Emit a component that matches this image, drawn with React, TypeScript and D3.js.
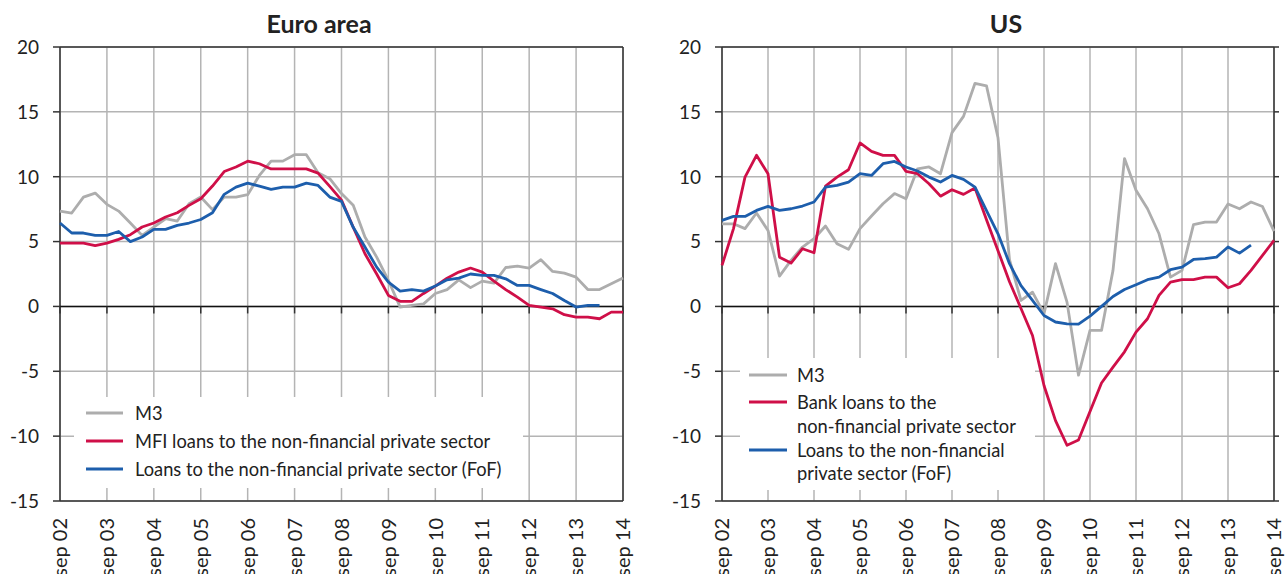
import React from "react";
import * as d3 from "d3";

// Quarterly observations, index 0 = Sep 2002 ... index 48 = Sep 2014
const xTickLabels = ["sep 02", "sep 03", "sep 04", "sep 05", "sep 06", "sep 07", "sep 08", "sep 09", "sep 10", "sep 11", "sep 12", "sep 13", "sep 14"];
const yTicks = [20, 15, 10, 5, 0, -5, -10, -15];

const euroM3 = [7.35, 7.2, 8.43, 8.74, 7.87, 7.35, 6.43, 5.48, 6.12, 6.76, 6.58, 7.92, 8.43, 7.46, 8.43, 8.43, 8.61, 10.1, 11.2, 11.2, 11.7, 11.7, 10.3, 9.85, 8.7, 7.8, 5.35, 3.8, 2.0, -0.05, 0.08, 0.2, 1.0, 1.3, 2.05, 1.45, 1.95, 1.8, 3.0, 3.1, 2.95, 3.6, 2.7, 2.57, 2.26, 1.3, 1.3, 1.75, 2.2];
const euroMFI = [4.88, 4.88, 4.88, 4.68, 4.88, 5.17, 5.53, 6.12, 6.43, 6.89, 7.22, 7.79, 8.3, 9.28, 10.4, 10.75, 11.2, 11.0, 10.6, 10.6, 10.6, 10.6, 10.28, 9.25, 8.2, 6.1, 4.06, 2.5, 0.85, 0.39, 0.39, 1.0, 1.57, 2.18, 2.65, 2.96, 2.65, 1.95, 1.3, 0.72, 0.08, -0.05, -0.18, -0.64, -0.82, -0.82, -0.95, -0.44, -0.44];
const euroFoF = [6.43, 5.66, 5.66, 5.48, 5.48, 5.78, 5.0, 5.35, 5.94, 5.94, 6.25, 6.43, 6.7, 7.22, 8.64, 9.2, 9.51, 9.28, 9.02, 9.2, 9.2, 9.51, 9.33, 8.43, 8.1, 6.1, 4.58, 3.03, 1.88, 1.18, 1.3, 1.18, 1.57, 2.05, 2.18, 2.5, 2.39, 2.39, 2.13, 1.62, 1.62, 1.3, 1.0, 0.46, -0.05, 0.08, 0.08];

const usM3 = [6.37, 6.37, 6.0, 7.2, 5.86, 2.34, 3.55, 4.58, 5.22, 6.2, 4.83, 4.4, 6.0, 6.97, 7.92, 8.7, 8.3, 10.6, 10.75, 10.23, 13.4, 14.65, 17.2, 17.0, 13.0, 3.6, 0.46, 1.1, -0.55, 3.3, 0.33, -5.3, -1.85, -1.85, 2.78, 11.4, 8.95, 7.53, 5.6, 2.26, 2.78, 6.3, 6.5, 6.5, 7.9, 7.53, 8.05, 7.7, 5.8];
const usBank = [3.16, 6.0, 9.97, 11.65, 10.23, 3.8, 3.34, 4.45, 4.14, 9.28, 9.97, 10.54, 12.6, 11.95, 11.65, 11.65, 10.41, 10.23, 9.46, 8.5, 9.0, 8.64, 9.13, 6.68, 4.3, 1.9, -0.16, -2.24, -6.1, -8.8, -10.7, -10.3, -8.1, -5.9, -4.68, -3.5, -1.98, -0.95, 0.85, 1.88, 2.06, 2.06, 2.26, 2.26, 1.44, 1.75, 2.78, 3.93, 5.09];
const usFoF = [6.63, 6.94, 6.94, 7.4, 7.71, 7.4, 7.53, 7.74, 8.05, 9.2, 9.33, 9.59, 10.23, 10.1, 11.0, 11.18, 10.75, 10.44, 9.97, 9.59, 10.1, 9.8, 9.2, 7.38, 5.6, 3.3, 1.6, 0.46, -0.7, -1.2, -1.34, -1.36, -0.75, 0.0, 0.77, 1.31, 1.67, 2.06, 2.26, 2.83, 3.03, 3.62, 3.68, 3.8, 4.58, 4.11, 4.73];

const euroLegend = [["M3"], ["MFI loans to the non-financial private sector"], ["Loans to the non-financial private sector (FoF)"]];
const usLegend = [["M3"], ["Bank loans to the", "non-financial private sector"], ["Loans to the non-financial", "private sector (FoF)"]];

const GRAY = "#adadad";
const RED = "#cf0f48";
const BLUE = "#1d5eac";
const GRID = "#b4b4b4";
const AXIS = "#333333";
const TEXT = "#222222";
const FONT = "Lato, 'Noto Sans', sans-serif";

type PanelProps = {
  title: string;
  titleX: number;
  x0: number;
  x1: number;
  series: { values: number[]; color: string }[];
  legend: string[][];
  legendBox: { x: number; y: number; w: number; h: number };
  legendLineX: [number, number];
  legendTextX: number;
  legendRowsY: number[][];
  rightTicks: boolean;
};

const Y0 = 47;
const Y1 = 501;

function Panel(p: PanelProps) {
  const nQ = (xTickLabels.length - 1) * 4;
  const x = d3.scaleLinear().domain([0, nQ]).range([p.x0, p.x1]);
  const y = d3.scaleLinear().domain([20, -15]).range([Y0, Y1]);
  const line = d3
    .line<number>()
    .x((_, i) => x(i))
    .y((d) => y(d));
  const xTicks = xTickLabels.map((_, i) => i * 4);
  return (
    <g>
      <text x={p.titleX} y={33} textAnchor="middle" fontFamily={FONT} fontWeight={700} fontSize={25} fill={TEXT}>
        {p.title}
      </text>
      {/* grid */}
      {yTicks.map((t) => (
        <line key={"h" + t} x1={p.x0} x2={p.x1} y1={y(t)} y2={y(t)} stroke={GRID} strokeWidth={1.5} />
      ))}
      {xTicks.map((t) => (
        <line key={"v" + t} x1={x(t)} x2={x(t)} y1={Y0} y2={Y1} stroke={GRID} strokeWidth={1.5} />
      ))}
      {/* legend background */}
      <rect x={p.legendBox.x} y={p.legendBox.y} width={p.legendBox.w} height={p.legendBox.h} fill="#fff" />
      {/* frame */}
      <line x1={p.x0} x2={p.x1} y1={Y0} y2={Y0} stroke={AXIS} strokeWidth={1.5} />
      <line x1={p.x0} x2={p.x1} y1={Y1} y2={Y1} stroke={AXIS} strokeWidth={1.5} />
      <line x1={p.x1} x2={p.x1} y1={Y0} y2={Y1} stroke={AXIS} strokeWidth={1.5} />
      <line x1={p.x0} x2={p.x0} y1={Y0} y2={Y1} stroke={AXIS} strokeWidth={1.5} />
      <line x1={p.x0} x2={p.x1} y1={y(0)} y2={y(0)} stroke="#111" strokeWidth={1.5} />
      {xTicks.map((t) => (
        <line key={"zt" + t} x1={x(t)} x2={x(t)} y1={y(0)} y2={y(0) + 7} stroke={AXIS} strokeWidth={1.5} />
      ))}
      {yTicks.map((t) => (
        <line key={"yt" + t} x1={p.x0 - 7} x2={p.x0} y1={y(t)} y2={y(t)} stroke={AXIS} strokeWidth={1.5} />
      ))}
      {p.rightTicks &&
        yTicks.map((t) => (
          <line key={"rt" + t} x1={p.x1} x2={p.x1 + 5} y1={y(t)} y2={y(t)} stroke={AXIS} strokeWidth={1.5} />
        ))}
      {/* y labels */}
      {yTicks.map((t) => (
        <text key={"yl" + t} x={p.x0 - 21} y={y(t)} dy="0.36em" textAnchor="end" fontFamily={FONT} fontSize={19} fill={TEXT}>
          {t}
        </text>
      ))}
      {/* x labels */}
      {xTicks.map((t, i) => (
        <text
          key={"xl" + t}
          transform={`translate(${x(t)},518) rotate(-90)`}
          dy="0.36em"
          textAnchor="end"
          fontFamily={FONT}
          fontSize={20}
          fill={TEXT}
        >
          {xTickLabels[i]}
        </text>
      ))}
      {/* series */}
      {p.series.map((s, i) => (
        <path key={"s" + i} d={line(s.values) || ""} fill="none" stroke={s.color} strokeWidth={2.8} strokeLinejoin="round" />
      ))}
      {/* legend */}
      {p.legend.map((rows, i) => (
        <g key={"lg" + i}>
          <line
            x1={p.legendLineX[0]}
            x2={p.legendLineX[1]}
            y1={p.legendRowsY[i][0]}
            y2={p.legendRowsY[i][0]}
            stroke={p.series[i].color}
            strokeWidth={3}
          />
          {rows.map((r, j) => (
            <text key={j} x={p.legendTextX} y={p.legendRowsY[i][j]} dy="0.36em" fontFamily={FONT} fontSize={18.3} fill={TEXT}>
              {r}
            </text>
          ))}
        </g>
      ))}
    </g>
  );
}

export default function App() {
  return (
    <svg width={1288} height={574} style={{ position: "absolute", left: 0, top: 0, background: "#fff" }}>
      <rect width={1288} height={574} fill="#fff" />
      <Panel
        title="Euro area"
        titleX={319}
        x0={60}
        x1={623}
        series={[
          { values: euroM3, color: GRAY },
          { values: euroMFI, color: RED },
          { values: euroFoF, color: BLUE },
        ]}
        legend={euroLegend}
        legendBox={{ x: 74, y: 397, w: 449, h: 91 }}
        legendLineX={[86, 123]}
        legendTextX={135}
        legendRowsY={[[413], [441], [469]]}
        rightTicks={false}
      />
      <Panel
        title="US"
        titleX={1006}
        x0={722}
        x1={1274}
        series={[
          { values: usM3, color: GRAY },
          { values: usBank, color: RED },
          { values: usFoF, color: BLUE },
        ]}
        legend={usLegend}
        legendBox={{ x: 740, y: 358, w: 295, h: 132 }}
        legendLineX={[749, 787]}
        legendTextX={797}
        legendRowsY={[[375], [402, 426], [450, 473]]}
        rightTicks={true}
      />
    </svg>
  );
}
